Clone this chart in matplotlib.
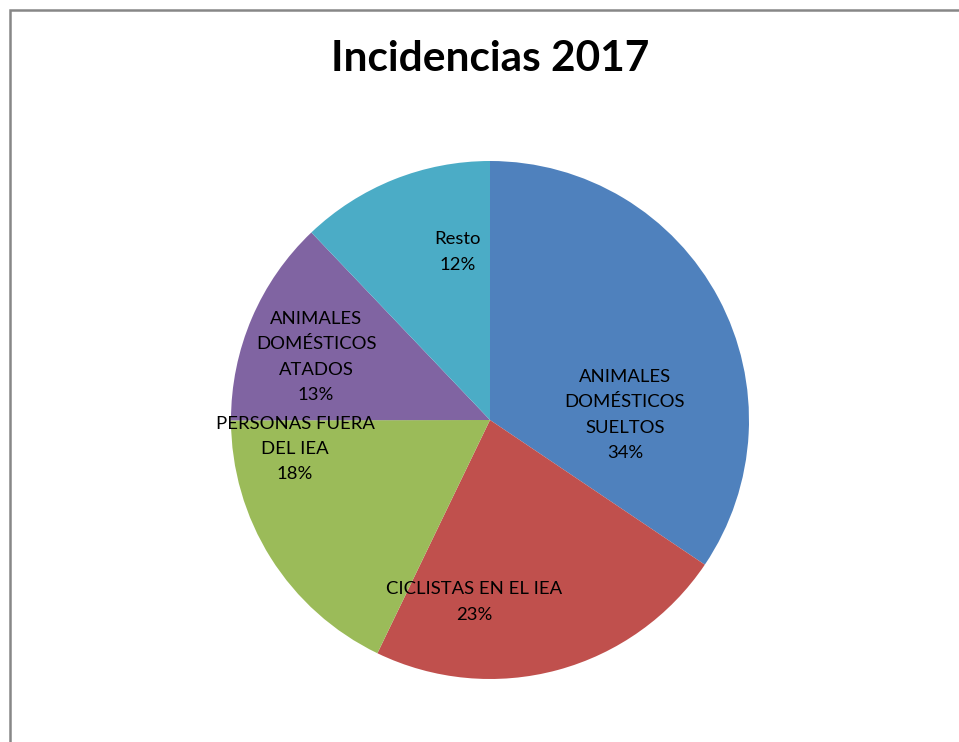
import matplotlib.pyplot as plt
from matplotlib.patches import Rectangle

plt.rcParams['font.family'] = ['Lato', 'DejaVu Sans']

categorias = ["ANIMALES\nDOMÉSTICOS\nSUELTOS", "CICLISTAS EN EL IEA", "PERSONAS FUERA\nDEL IEA",
              "ANIMALES\nDOMÉSTICOS\nATADOS", "Resto"]
valores = [34.4, 22.7, 17.8, 12.9, 12.1]
colores = ["#4F81BD", "#C0504D", "#9BBB59", "#8064A2", "#4BACC6"]

# posiciones de las etiquetas (px de la imagen)
pos_etiquetas = [(625, 415), (474, 602), (295, 449), (316, 357), (458, 252)]

W, H = 959, 742
fig = plt.figure(figsize=(W / 100, H / 100), dpi=100)
ax = fig.add_axes([0, 0, 1, 1])

# marco del grafico
ax.add_patch(Rectangle((10, -20), W + 20, H - 10 + 20, fill=False, edgecolor='#878787', linewidth=1.8))

ax.pie(valores, colors=colores, startangle=90, counterclock=False,
       center=(490, H - 420), radius=259, frame=True)
ax.set_xlim(0, W)
ax.set_ylim(0, H)
ax.set_aspect('equal')
ax.axis('off')

total = sum(valores)
for cat, v, (x, y) in zip(categorias, valores, pos_etiquetas):
    ax.text(x, H - y, cat + "\n" + str(round(v / total * 100)) + "%", ha='center', va='center',
            fontsize=13.3, linespacing=1.7, color='black')

ax.text(490, H - 59, "Incidencias 2017", ha='center', va='center', fontsize=30.5, fontweight='bold')

plt.savefig('out.png', dpi=100)
